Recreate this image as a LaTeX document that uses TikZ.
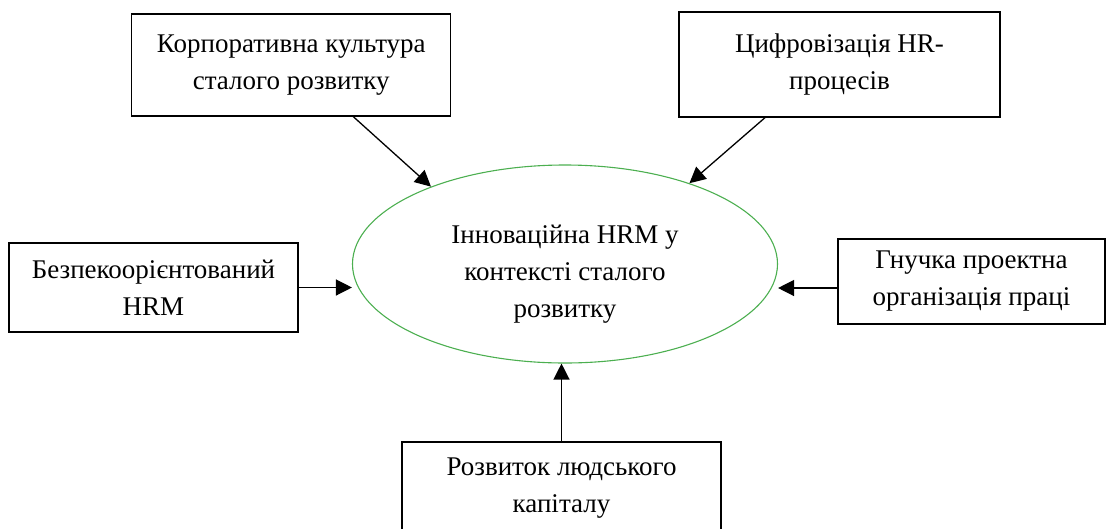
\documentclass[tikz,border=0pt]{standalone}
\usepackage{fontspec}
\setmainfont{Liberation Serif}
\usetikzlibrary{arrows.meta,calc,shapes.geometric}
\definecolor{egreen}{RGB}{76,175,80}
\tikzset{
  txt/.style={align=center,font=\fontsize{27}{37}\selectfont},
  box/.style={txt,draw=black,line width=1.3pt,rectangle,inner sep=0pt},
  arr/.style={draw=black,line width=1.3pt,-{Triangle[length=16pt,width=16pt]}},
}
\begin{document}
\begin{tikzpicture}[x=1pt,y=-1pt]
\useasboundingbox (0,0) rectangle (1106,528);
\node[draw=egreen,line width=1.1pt,ellipse,inner sep=0pt,minimum width=425pt,minimum height=198pt] (e) at (565,264) {};
\node[txt] (et) at ($(e.center)+(0,10)$) {Інноваційна HRM у\\контексті сталого\\розвитку};
\node[box,minimum width=319pt,minimum height=102pt] (tl) at (291.3,65) {Корпоративна культура\\сталого розвитку};
\node[box,minimum width=321pt,minimum height=105pt] (tr) at (839.5,64.5) {Цифровізація HR-\\процесів};
\node[box,minimum width=289pt,minimum height=89pt] (l) at (153.5,287.5) {Безпекоорієнтований\\HRM};
\node[box,minimum width=267pt,minimum height=85pt] (r) at (971.5,281.5) {Гнучка проектна\\організація праці};
\node[box,minimum width=319pt,minimum height=92pt] (b) at (561.5,488) {Розвиток людського\\капіталу};
\draw[arr] ($(tl.south)+(62,0)$) -- (e.150);
\draw[arr] ($(tr.south)+(-74.5,0)$) -- (e.33.7);
\draw[arr] (l.east) -- (l.east -| e.west);
\coordinate (rs) at ($(r.west)+(0,6.5)$);
\draw[arr] (rs) -- (rs -| e.east);
\draw[arr] (b.north) -- (b.north |- e.south);
\end{tikzpicture}
\end{document}
